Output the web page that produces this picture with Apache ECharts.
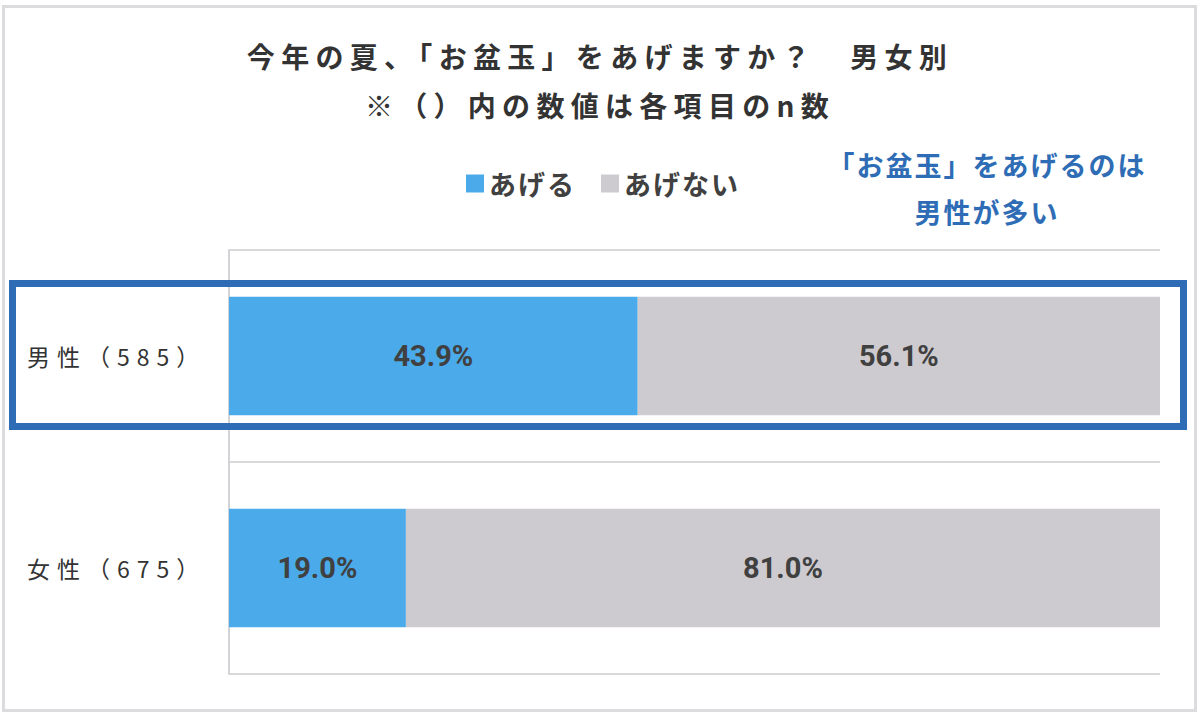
<!DOCTYPE html>
<html>
<head>
<meta charset="utf-8">
<script src="https://cdn.jsdelivr.net/npm/echarts@6/dist/echarts.min.js"></script>
<style>
  html, body { margin: 0; padding: 0; background: #fff; }
  #main { width: 1200px; height: 718px; }
  /* spaced-out lettering like the original */
  #main text[style*="28px"] { letter-spacing: 6.3px; }
  #main text[style*="23px"] { letter-spacing: 7px; }
  #main text[style*="27px"] { letter-spacing: 2px; }
</style>
</head>
<body>
<div id="main"></div>
<script>
var categories = ['男性（585）', '女性（675）'];
var giveValues = [43.9, 19.0];
var notGiveValues = [56.1, 81.0];
var seriesNames = ['あげる', 'あげない'];
var titleText = '今年の夏、「お盆玉」をあげますか？　男女別\n※（）内の数値は各項目のn数';
var noteText = '「お盆玉」をあげるのは\n男性が多い';

var font = '"Noto Sans CJK JP", "Noto Sans", sans-serif';
var chartDom = document.getElementById('main');
var myChart = echarts.init(chartDom, null, { renderer: 'svg' });

function pctLabel(p) {
  return p.value.toFixed(1) + '%';
}

var option = {
  animation: false,
  backgroundColor: '#fff',
  textStyle: { fontFamily: font },
  legend: {
    data: seriesNames,
    left: 461,
    top: 165,
    icon: 'rect',
    itemWidth: 18,
    itemHeight: 18,
    itemGap: 31,
    textStyle: {
      fontSize: 27,
      fontWeight: 'bold',
      color: '#404040',
      fontFamily: font
    }
  },
  grid: {
    left: 229,
    right: 40,
    top: 250,
    bottom: 44
  },
  xAxis: {
    type: 'value',
    min: 0,
    max: 100,
    show: false
  },
  yAxis: {
    type: 'category',
    data: categories,
    inverse: true,
    axisTick: { show: false },
    axisLine: { show: true, lineStyle: { color: '#d4d4d8', width: 2 } },
    splitLine: { show: true, lineStyle: { color: '#d9d9dc', width: 2 } },
    axisLabel: {
      align: 'left',
      margin: 202,
      fontSize: 23,
      color: '#333',
      fontFamily: font
    }
  },
  series: [
    {
      name: seriesNames[0],
      type: 'bar',
      stack: 'total',
      barWidth: '56%',
      data: giveValues,
      itemStyle: { color: '#4baae9' },
      label: {
        show: true,
        position: 'inside',
        formatter: pctLabel,
        fontSize: 29,
        fontWeight: 'bold',
        color: '#404040',
        fontFamily: 'Roboto, "Liberation Sans", sans-serif'
      }
    },
    {
      name: seriesNames[1],
      type: 'bar',
      stack: 'total',
      barWidth: '56%',
      data: notGiveValues,
      itemStyle: { color: '#cdcbcf' },
      label: {
        show: true,
        position: 'inside',
        formatter: pctLabel,
        fontSize: 29,
        fontWeight: 'bold',
        color: '#404040',
        fontFamily: 'Roboto, "Liberation Sans", sans-serif'
      }
    }
  ]
};

myChart.setOption(option);

// highlight box around the first row, plus frame and texts
var rowY = myChart.convertToPixel({ yAxisIndex: 0 }, categories[0]);
myChart.setOption({
  graphic: [
    {
      type: 'rect',
      shape: { x: 3.5, y: 6.5, width: 1192, height: 704 },
      style: { fill: 'none', stroke: '#dcdcde', lineWidth: 3 },
      silent: true
    },
    {
      type: 'rect',
      shape: { x: 12.5, y: rowY - 72.5, width: 1171, height: 143 },
      style: { fill: 'none', stroke: '#2e6db5', lineWidth: 7 },
      z: 100,
      silent: true
    },
    {
      type: 'text',
      x: 600,
      y: 31,
      style: {
        text: titleText,
        textAlign: 'center',
        fontSize: 28,
        fontWeight: 'bold',
        lineHeight: 49,
        fill: '#333',
        fontFamily: font
      }
    },
    {
      type: 'text',
      x: 987,
      y: 141,
      style: {
        text: noteText,
        textAlign: 'center',
        fontSize: 27,
        fontWeight: 'bold',
        lineHeight: 47,
        fill: '#2e6db5',
        fontFamily: font
      }
    }
  ]
});

window.addEventListener('resize', function () { myChart.resize(); });
</script>
</body>
</html>
